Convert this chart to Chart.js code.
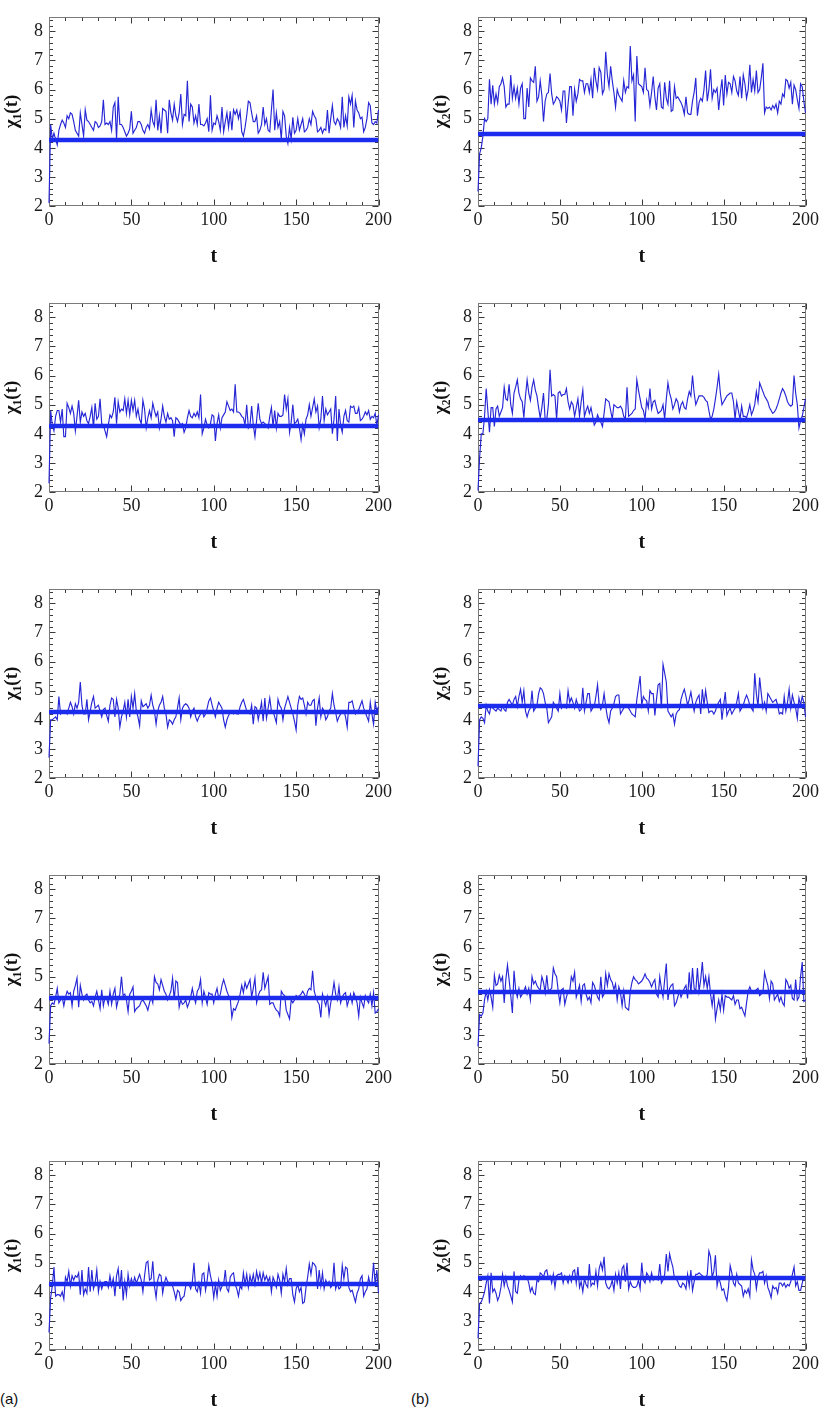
<!DOCTYPE html>
<html>
<head>
<meta charset="utf-8">
<script src="https://cdn.jsdelivr.net/npm/chart.js@4.4.0/dist/chart.umd.min.js"></script>
<style>
html,body{margin:0;padding:0;background:#fff;}
body{width:822px;height:1407px;overflow:hidden;position:relative;}
canvas.panel{position:absolute;}
.tag{position:absolute;font-family:'Liberation Sans',Arial,sans-serif;font-size:15px;color:#111;line-height:18px;}
</style>
</head>
<body>
<div class="tag" style="left:0px;top:1390px">(a)</div>
<div class="tag" style="left:411px;top:1390px">(b)</div>
<script>
// ---------- axis / tick data ----------
const tMin = 0, tMax = 200, tStep = 1;
const xTickValues = [0, 50, 100, 150, 200];
const yTickValues = [2, 3, 4, 5, 6, 7, 8];
const yMin = 2, yMax = 8.5;
const chi1Label = 'χ₁(t)';
const chi2Label = 'χ₂(t)';
const chi1Equilibrium = 4.27;
const chi2Equilibrium = 4.47;

// ---------- series (t = 0..200) ----------
const chi1Row1 = [
2.1,4.8,4.3,4.5,4.3,4.1,4.6,4.8,4.95,4.85,
4.7,5.1,5.0,5.2,5.15,4.9,4.6,4.5,4.4,5.2,
4.8,4.4,5.3,4.95,4.9,4.8,4.7,4.6,4.9,4.85,
4.7,4.75,4.9,5.65,4.8,4.85,4.8,4.9,4.6,5.4,
5.55,4.3,5.75,4.8,4.8,4.7,4.55,4.4,4.5,4.65,
5.25,4.5,4.6,4.7,4.9,4.9,4.8,4.6,4.5,4.7,
4.8,4.65,5.3,4.9,4.75,5.65,4.6,5.1,4.5,5.35,
5.3,5.25,4.5,5.65,5.2,4.95,5.5,5.1,4.9,5.2,
5.85,4.8,5.15,5.1,6.3,4.9,5.5,5.4,4.85,5.1,
4.8,5.5,4.8,4.8,4.75,4.85,5.0,4.55,5.8,4.6,
4.85,4.8,5.1,4.9,4.6,5.4,4.55,4.9,5.2,4.7,
5.25,4.6,5.3,5.15,5.3,5.0,5.25,4.55,4.4,4.7,
5.1,5.6,5.55,5.2,4.9,4.9,5.1,4.5,4.6,4.8,
5.4,4.8,5.0,4.6,4.55,5.3,6.0,4.6,5.2,4.7,
4.9,4.3,5.25,5.1,4.4,4.15,4.7,4.3,5.05,4.5,
4.6,5.0,4.6,4.8,5.0,4.55,4.6,4.7,5.0,4.8,
5.25,5.1,5.0,4.55,4.6,4.7,4.5,4.65,4.6,5.3,
4.5,5.0,5.45,4.9,4.8,5.0,4.9,4.7,5.75,4.7,
5.1,4.75,5.75,5.5,5.8,4.7,5.6,5.3,5.2,5.0,
5.05,4.55,4.7,5.0,5.55,5.45,4.85,4.8,4.9,4.85,
5.3];

const chi2Row1 = [
2.5,3.8,4.0,4.4,5.0,4.9,5.0,6.35,5.5,6.15,
5.5,5.85,5.55,6.1,6.2,6.4,6.1,5.4,5.5,5.5,
6.5,5.7,6.1,5.7,6.05,5.5,6.05,6.2,5.0,5.0,
6.05,5.4,6.4,6.3,6.25,6.8,5.6,5.75,6.3,5.8,
4.9,5.6,5.85,5.9,6.55,5.85,5.5,5.6,5.75,5.7,
5.6,5.3,5.95,5.95,4.85,5.5,6.1,6.1,5.1,6.0,
5.6,5.85,6.35,6.3,6.3,5.9,6.2,6.2,5.9,6.35,
5.7,6.75,6.3,6.0,6.75,6.6,5.85,6.0,7.3,6.5,
6.1,6.8,6.3,5.9,5.4,6.0,5.8,5.7,5.6,6.3,
5.9,6.1,6.05,7.5,6.3,6.5,4.9,7.15,6.2,6.15,
6.1,5.9,6.75,6.0,5.95,5.45,5.9,6.45,5.75,5.3,
6.05,6.2,5.4,5.35,6.25,5.7,5.5,6.3,5.25,5.3,
6.1,5.7,5.75,5.65,5.55,5.4,5.15,5.75,5.2,5.15,
5.15,5.6,5.9,6.4,5.1,5.55,5.7,5.6,6.0,6.65,
5.6,6.0,6.7,5.7,6.0,5.9,6.05,5.3,5.9,6.35,
5.45,6.5,5.85,6.25,6.2,5.9,6.45,6.3,5.95,5.8,
6.45,5.7,6.5,6.2,5.7,6.0,6.85,5.9,6.35,5.95,
6.65,5.9,6.0,6.4,6.9,5.2,5.4,5.35,5.4,5.3,
5.45,5.35,5.5,5.2,5.6,5.5,5.85,5.75,6.35,6.3,
6.05,6.25,5.5,6.15,6.0,5.65,5.35,6.2,6.1,5.6,
5.2];

const chi1Row2 = [
2.3,4.8,4.3,4.1,4.6,4.8,4.8,4.4,4.85,3.9,
3.9,5.05,4.9,4.7,4.95,4.7,4.1,4.6,5.15,4.4,
4.75,4.6,4.7,4.45,4.35,4.6,4.9,4.2,5.05,4.5,
4.6,5.2,4.35,4.3,4.1,3.9,4.3,4.65,4.55,4.75,
5.25,4.35,5.1,4.75,4.85,4.8,5.2,4.7,5.15,4.65,
5.15,4.8,5.15,4.6,4.85,4.5,4.35,5.15,4.85,4.2,
4.55,4.8,4.55,5.05,4.8,4.6,4.75,4.2,4.5,4.95,
4.6,4.4,4.7,4.5,4.55,4.45,3.9,4.55,4.5,4.4,
4.3,4.35,4.05,4.2,4.55,4.8,4.6,4.55,4.7,4.6,
4.75,4.55,5.35,4.0,4.2,4.5,4.3,4.2,4.35,4.65,
4.6,3.75,4.35,4.65,4.2,4.55,4.65,4.75,5.1,4.95,
4.8,4.85,4.75,5.7,4.75,4.75,4.7,4.6,4.55,4.3,
5.0,4.2,4.3,4.95,4.3,3.9,4.45,5.05,4.5,4.35,
4.4,4.35,4.3,4.2,4.6,4.9,4.25,4.8,4.2,4.7,
4.6,4.6,4.65,5.35,4.85,5.2,4.05,4.4,5.0,4.35,
4.4,4.5,4.2,3.8,4.3,4.0,4.5,4.65,5.0,4.6,
4.9,5.2,4.75,4.95,4.2,4.5,5.3,4.45,4.85,4.65,
4.75,4.85,4.0,4.5,5.3,3.75,4.85,4.3,4.05,4.6,
4.8,4.45,4.4,4.95,4.9,4.95,4.7,4.7,4.9,4.45,
4.5,4.6,4.75,4.65,4.8,4.5,4.6,4.55,4.7,4.3,
4.65];

const chi2Row2 = [
2.05,3.2,4.0,4.0,4.6,5.55,4.8,4.05,4.9,4.9,
4.25,4.85,4.95,4.6,4.75,4.9,5.6,5.2,5.15,5.7,
5.0,4.7,5.4,5.6,5.85,5.4,5.2,5.1,4.55,5.3,
5.85,5.4,5.15,5.6,5.85,5.5,5.3,4.9,4.55,4.9,
5.4,4.5,4.5,5.0,6.2,5.3,5.35,5.3,4.5,5.4,
5.45,5.3,5.35,5.35,5.55,5.1,4.85,5.1,5.0,4.6,
4.9,5.2,4.6,5.1,5.5,4.6,4.8,4.95,4.7,4.9,
4.6,4.3,4.4,4.65,4.5,4.4,4.25,4.7,5.2,5.15,
5.1,4.8,4.5,5.0,4.95,4.9,4.9,4.95,4.85,4.6,
4.5,5.6,4.6,4.65,4.7,4.8,4.85,5.85,5.5,5.2,
4.9,4.8,4.5,5.15,4.9,5.55,4.85,5.1,5.15,4.9,
4.7,4.75,4.8,5.0,4.5,5.2,5.75,5.4,5.2,4.85,
5.0,5.2,5.1,4.75,5.0,5.1,4.9,4.85,5.2,5.45,
5.3,6.0,5.4,5.0,5.15,5.3,5.3,5.3,5.25,5.15,
5.1,4.8,4.5,4.6,4.85,5.2,5.6,6.05,5.4,5.0,
5.1,5.2,5.3,5.35,5.4,5.4,5.1,4.5,5.1,4.8,
4.5,4.95,4.6,4.6,4.55,4.75,5.0,4.65,4.8,5.0,
5.45,5.1,5.75,5.6,5.45,5.3,5.2,5.1,4.9,4.8,
4.7,4.75,4.85,5.0,5.2,5.4,5.55,5.45,5.3,5.1,
5.0,4.95,5.0,6.0,5.4,5.0,4.2,4.45,4.6,4.9,
5.2];

const chi1Row3 = [
2.7,4.0,4.0,4.05,4.1,4.0,4.8,4.2,4.3,4.25,
4.3,4.2,4.4,4.6,4.45,4.2,4.55,4.4,4.6,5.3,
4.5,4.2,4.2,4.7,4.0,4.3,4.6,4.8,4.4,4.45,
4.5,4.3,4.1,4.35,4.4,4.15,3.95,4.5,4.75,4.7,
4.1,4.7,4.4,3.75,4.1,4.3,4.6,4.1,4.7,4.1,
4.8,4.4,4.9,4.3,4.1,3.8,4.65,4.45,4.5,4.55,
4.4,4.5,4.85,4.5,4.3,3.85,4.3,4.5,4.6,4.8,
4.4,4.2,3.75,4.0,3.95,3.85,4.0,4.1,4.4,4.75,
4.0,4.4,4.5,4.55,4.5,4.4,4.1,4.3,4.4,4.1,
3.95,4.1,4.2,4.3,4.1,4.2,4.4,4.65,4.75,4.5,
4.3,4.1,4.4,4.6,4.5,4.4,4.0,3.75,4.0,4.15,
4.25,4.3,4.2,4.25,4.2,4.2,4.45,4.6,4.7,4.5,
4.3,4.25,4.2,4.5,3.85,4.45,4.4,4.0,4.3,4.6,
3.95,4.75,4.05,4.4,4.75,4.3,4.3,4.1,3.9,4.7,
4.5,4.4,4.0,4.4,4.6,4.8,4.6,4.4,4.2,3.95,
3.65,4.5,4.8,4.7,4.75,4.5,4.2,4.6,4.5,4.5,
4.65,4.7,3.8,4.4,4.75,4.1,4.4,4.3,4.0,4.1,
4.3,4.4,4.9,4.5,4.25,3.95,4.1,4.2,4.25,4.3,
4.1,3.75,4.6,4.6,4.65,4.4,4.2,4.3,4.35,4.5,
4.65,4.4,4.25,4.1,3.95,4.6,4.2,3.85,4.6,4.3,
4.45];

const chi2Row3 = [
2.4,4.0,4.1,4.05,3.9,4.5,4.3,4.2,4.5,4.4,
4.35,4.3,4.4,4.35,4.3,4.5,4.35,4.3,4.6,4.7,
4.6,4.5,4.7,4.8,4.45,4.8,5.05,4.6,5.0,4.3,
4.1,4.3,4.4,5.0,4.3,4.4,4.5,4.9,5.1,5.05,
4.9,4.6,4.4,3.9,4.0,4.1,4.6,4.5,4.4,4.3,
4.9,4.4,4.5,4.45,4.4,5.0,4.6,4.75,4.6,4.4,
4.7,4.5,4.3,4.35,5.1,4.3,4.6,4.9,4.9,4.3,
4.4,4.45,4.8,5.2,4.5,4.35,4.5,4.9,4.45,4.1,
3.9,4.3,4.4,4.55,4.8,4.85,4.85,4.2,4.3,4.4,
4.5,4.45,4.4,4.3,4.2,4.15,4.1,4.7,5.1,5.5,
4.5,4.8,4.7,4.65,4.3,5.0,4.9,4.9,4.15,4.7,
5.2,5.25,4.4,5.9,5.6,5.3,4.3,4.2,4.1,4.2,
3.85,4.2,4.3,4.35,4.7,4.9,5.05,4.8,4.5,4.7,
4.95,4.6,4.3,4.6,4.75,4.85,4.2,5.05,4.5,5.0,
4.6,4.25,4.3,4.3,4.2,4.3,4.5,4.6,4.7,4.0,
4.5,4.95,4.15,4.3,4.4,4.2,4.3,4.4,4.6,4.9,
4.3,4.4,4.5,4.7,4.85,4.7,4.5,4.4,4.3,5.6,
4.9,4.45,5.45,4.9,4.4,4.6,4.3,4.9,4.8,4.7,
4.6,4.65,4.7,4.5,4.2,4.25,4.2,4.8,4.3,4.6,
5.05,4.4,4.85,4.6,4.4,4.05,4.75,4.5,4.8,4.6,
4.1];

const chi1Row4 = [
2.7,4.0,4.1,4.05,4.3,4.6,4.1,4.2,4.3,4.0,
4.3,4.5,4.4,4.45,4.0,4.5,4.7,4.95,3.95,4.7,
4.4,4.2,4.35,4.4,4.2,4.1,4.15,4.0,4.3,4.5,
4.2,3.9,4.55,4.0,4.3,4.25,4.05,4.5,4.05,4.4,
4.6,3.95,4.2,4.4,5.0,4.35,4.4,4.2,3.8,4.4,
4.5,4.65,3.8,3.9,3.95,4.0,4.15,4.2,4.1,4.0,
3.85,4.1,4.3,4.1,5.0,4.8,4.75,4.55,4.9,4.7,
4.5,4.4,4.2,4.35,4.5,4.95,4.2,4.85,4.8,3.95,
4.2,4.05,4.1,4.2,3.95,4.1,4.3,4.6,4.3,4.1,
4.5,4.6,4.9,4.1,4.5,4.3,4.05,4.45,4.4,4.4,
4.1,4.4,4.6,4.25,4.4,4.7,4.9,4.7,4.5,4.35,
4.25,3.6,3.9,3.85,4.0,4.15,4.4,4.7,4.45,4.8,
4.6,4.75,4.9,4.3,4.6,4.95,4.1,4.35,4.5,4.55,
5.15,4.6,4.8,5.0,4.05,4.1,4.1,3.95,3.85,3.8,
3.65,4.5,4.4,4.35,3.85,3.7,3.55,4.2,4.1,4.2,
4.35,4.3,4.35,4.4,4.5,4.4,4.25,4.5,4.6,4.55,
5.2,4.5,4.3,4.15,4.05,3.6,4.4,4.2,4.0,4.3,
3.7,4.1,4.4,4.8,4.4,4.2,4.65,4.1,4.3,4.4,
4.45,4.0,4.2,4.4,4.1,4.45,4.3,4.1,3.65,4.3,
4.1,3.95,4.35,4.2,4.1,4.4,4.0,4.45,3.75,3.8,
3.9];

const chi2Row4 = [
2.6,3.7,3.65,3.75,4.2,4.5,4.2,4.55,4.3,3.95,
5.05,4.7,4.75,5.05,4.85,5.0,4.1,4.9,5.4,4.9,
4.35,3.75,5.2,4.55,4.3,4.6,4.3,4.4,4.5,4.65,
4.4,4.6,4.2,5.0,4.75,4.85,4.7,4.6,4.55,5.0,
4.8,4.45,5.05,4.5,4.55,4.6,5.3,5.1,5.0,4.5,
4.1,4.55,4.6,4.05,4.3,4.5,4.5,5.0,4.85,5.15,
4.3,4.5,4.7,4.15,4.7,4.75,4.4,4.2,4.3,4.1,
4.8,4.7,4.5,4.3,4.2,5.0,4.3,4.4,5.1,4.7,
5.1,4.9,4.8,4.55,4.75,4.2,4.65,4.45,4.0,4.5,
3.95,3.9,3.85,4.5,4.8,5.0,4.9,4.85,4.75,4.8,
4.85,4.95,5.1,4.95,4.9,4.8,4.65,4.8,4.9,4.4,
4.3,5.0,4.6,4.3,4.9,5.45,4.2,4.6,4.7,4.75,
4.0,4.1,4.3,4.5,4.3,4.45,4.6,4.7,4.25,5.15,
4.4,5.3,4.6,4.5,5.3,4.5,4.9,5.5,4.7,5.0,
4.6,5.0,4.4,4.0,4.5,3.55,3.9,4.2,3.85,4.4,
3.85,4.35,4.3,4.3,4.25,4.2,4.35,4.05,4.2,4.2,
3.9,3.95,3.8,3.65,4.1,4.5,4.65,4.5,4.45,4.5,
4.55,4.6,4.35,4.4,4.45,5.15,4.9,4.7,4.25,4.85,
4.75,4.2,4.3,4.4,4.15,4.3,4.1,4.0,4.9,4.8,
4.6,4.7,4.25,4.2,4.9,4.2,4.3,5.0,5.5,4.15,
4.2];

const chi1Row5 = [
2.6,3.8,4.2,4.85,3.85,3.9,3.9,3.85,4.0,3.75,
4.5,4.35,4.7,4.2,4.55,4.4,4.55,4.5,4.65,3.9,
4.75,3.9,4.1,3.95,4.85,4.0,4.75,4.1,4.3,4.75,
4.0,4.35,4.1,4.3,4.35,4.35,4.15,4.55,4.2,4.45,
3.85,4.55,4.8,4.1,4.75,3.7,4.35,3.9,4.6,4.2,
4.45,4.25,4.5,4.3,4.45,4.6,4.4,4.0,4.55,5.0,
5.05,4.4,4.45,5.05,4.2,3.8,4.4,4.6,4.55,3.95,
4.3,4.5,4.35,4.3,4.3,4.2,4.0,3.75,4.05,4.0,
3.7,3.8,3.85,4.2,4.3,4.25,4.1,4.35,5.0,4.1,
4.0,4.3,3.95,4.6,4.65,4.05,4.4,4.9,4.55,4.3,
3.8,4.25,3.85,4.4,4.05,4.2,4.25,4.75,4.1,4.0,
4.5,4.6,4.65,4.25,4.1,3.85,4.2,4.1,4.65,4.25,
4.6,4.15,4.55,4.3,4.6,4.25,4.7,4.4,4.65,4.3,
4.65,4.4,4.55,4.35,4.5,4.0,4.5,4.35,4.15,4.6,
4.4,3.95,4.6,4.35,4.8,4.25,4.45,4.45,3.9,3.65,
4.1,4.25,4.0,4.15,3.6,3.65,4.15,4.5,4.95,4.6,
5.0,4.95,4.85,4.1,4.75,4.2,4.65,4.1,4.4,4.25,
4.35,4.15,4.25,5.0,4.1,4.3,4.1,4.15,4.9,4.45,
4.85,4.8,4.15,4.0,4.05,3.85,3.65,3.95,4.1,4.45,
4.55,3.85,4.0,4.1,4.5,4.25,4.3,5.0,4.25,4.75,
3.95];

const chi2Row5 = [
2.4,3.6,3.65,3.8,4.0,4.3,4.55,3.6,4.65,4.0,
4.1,3.95,3.7,3.85,4.15,4.6,4.2,4.5,4.2,4.05,
3.85,3.65,4.7,4.0,3.95,4.4,4.55,4.45,4.55,4.5,
4.5,4.3,4.0,4.15,3.95,3.9,4.4,4.35,4.65,4.6,
4.5,4.7,4.75,4.45,4.55,4.3,4.6,4.15,4.55,4.6,
4.6,4.65,4.3,4.55,4.45,4.3,4.55,4.35,4.7,4.75,
4.3,4.85,4.15,4.35,4.0,4.45,4.25,4.15,4.95,4.2,
4.3,4.25,4.7,4.2,4.8,5.0,4.75,5.2,4.3,4.15,
4.1,4.2,4.4,4.05,4.6,4.3,4.65,4.1,4.8,4.9,
4.35,5.0,4.1,4.35,4.2,4.15,4.15,4.2,4.4,4.1,
5.0,4.4,4.3,4.65,4.55,4.35,4.65,4.4,4.5,4.45,
4.4,4.95,4.3,4.4,4.6,5.3,4.7,5.3,5.05,4.85,
4.45,4.45,4.35,4.2,4.15,4.3,4.25,4.1,4.6,4.2,
4.75,4.05,4.35,4.6,4.6,4.65,4.6,4.55,4.5,4.45,
4.6,5.4,5.2,4.5,4.7,5.25,4.2,4.5,4.3,4.05,
4.1,3.85,3.7,4.15,4.9,4.65,4.3,4.2,4.6,4.3,
4.25,4.2,3.85,4.05,3.95,4.1,3.85,5.1,4.75,4.6,
4.1,4.5,4.65,4.65,4.7,4.3,4.55,4.15,4.0,3.8,
4.2,4.1,4.15,3.95,4.3,4.3,4.2,4.3,4.15,4.25,
4.2,4.35,4.6,4.85,4.2,4.35,4.05,4.05,4.3,4.5,
4.5];

// ---------- panel list ----------
const leftSeries  = [chi1Row1, chi1Row2, chi1Row3, chi1Row4, chi1Row5];
const rightSeries = [chi2Row1, chi2Row2, chi2Row3, chi2Row4, chi2Row5];

const tValues = [];
for (let t = tMin; t <= tMax; t += tStep) tValues.push(t);

// ---------- styling ----------
const SERIF = "'Liberation Serif','Times New Roman',serif";
const THIN_COLOR = 'rgb(38,38,214)';
const THICK_COLOR = 'rgb(28,44,238)';
const FRAME_COLOR = '#7a7a7a';
const TICK_COLOR = '#3a3a3a';

const frameTicks = {
  id: 'frameTicks',
  beforeDatasetsDraw(chart) {
    const {ctx, chartArea: a, scales: {x, y}} = chart;
    ctx.save();
    const L = Math.round(a.left) + 0.5, R = Math.round(a.right) - 0.5;
    const T = Math.round(a.top) + 0.5, B = Math.round(a.bottom) - 0.5;
    ctx.lineWidth = 1;
    ctx.strokeStyle = TICK_COLOR;
    ctx.beginPath();
    for (let k = 0; k <= 20; k++) {
      const v = tMin + k * 10;
      const px = Math.round(x.getPixelForValue(v)) + 0.5;
      const len = (k % 5 === 0) ? 6 : 3.5;
      ctx.moveTo(px, B); ctx.lineTo(px, B - len);
      ctx.moveTo(px, T); ctx.lineTo(px, T + len);
    }
    for (let k = 0; k <= 32; k++) {
      const v = yMin + k * 0.2;
      const py = Math.round(y.getPixelForValue(v)) + 0.5;
      const len = (k % 5 === 0) ? 6 : 3.5;
      ctx.moveTo(L, py); ctx.lineTo(L + len, py);
      ctx.moveTo(R, py); ctx.lineTo(R - len, py);
    }
    ctx.stroke();
    ctx.strokeStyle = FRAME_COLOR;
    ctx.strokeRect(L, T, R - L, B - T);
    ctx.restore();
  }
};

function makePanel(col, row, series, eq, label) {
  const cv = document.createElement('canvas');
  cv.className = 'panel';
  const W = col === 0 ? 395 : 412;
  const H = 286;
  cv.width = W; cv.height = H;
  cv.style.width = W + 'px'; cv.style.height = H + 'px';
  cv.style.left = (col === 0 ? 0 : 410) + 'px';
  cv.style.top = (row * 286) + 'px';
  document.body.appendChild(cv);
  const yAxisW = col === 0 ? 49 : 68;
  const padR = col === 0 ? 16 : 14;
  const titlePad = col === 0 ? 1 : 20;
  new Chart(cv.getContext('2d'), {
    type: 'line',
    data: {
      datasets: [
        { data: [{x: tMin, y: eq}, {x: tMax, y: eq}], borderColor: THICK_COLOR, borderWidth: 4.5,
          borderCapStyle: 'butt', pointRadius: 0, fill: false },
        { data: series.map((v, i) => ({x: tValues[i], y: v})), borderColor: THIN_COLOR, borderWidth: 1.15,
          pointRadius: 0, fill: false, tension: 0, clip: 3 }
      ]
    },
    options: {
      responsive: false, animation: false, devicePixelRatio: 1,
      layout: { padding: { top: 4, right: padR, left: 0, bottom: 0 }, autoPadding: false },
      plugins: { legend: { display: false }, tooltip: { enabled: false } },
      scales: {
        x: {
          type: 'linear', min: tMin, max: tMax,
          afterBuildTicks: s => { s.ticks = xTickValues.map(v => ({value: v})); },
          afterFit: s => { s.height = 80; },
          grid: { display: false, drawTicks: false }, border: { display: false },
          ticks: { padding: 3, color: '#1a1a1a', maxRotation: 0, autoSkip: false,
                   font: { family: SERIF, size: 18 } },
          title: { display: true, text: 't', color: '#111', padding: { top: 0, bottom: 17 },
                   font: { family: SERIF, size: 20, weight: 'bold' } }
        },
        y: {
          type: 'linear', min: yMin, max: yMax,
          afterBuildTicks: s => { s.ticks = yTickValues.map(v => ({value: v})); },
          afterFit: s => { s.width = yAxisW; },
          grid: { display: false, drawTicks: false }, border: { display: false },
          ticks: { padding: 6, color: '#1a1a1a', font: { family: SERIF, size: 18 } },
          title: { display: true, text: label, color: '#111', padding: { top: titlePad, bottom: 0 },
                   font: { family: SERIF, size: 19, weight: 'bold' } }
        }
      }
    },
    plugins: [frameTicks]
  });
}

for (let r = 0; r < 5; r++) {
  makePanel(0, r, leftSeries[r], chi1Equilibrium, chi1Label);
  makePanel(1, r, rightSeries[r], chi2Equilibrium, chi2Label);
}
</script>
</body>
</html>
